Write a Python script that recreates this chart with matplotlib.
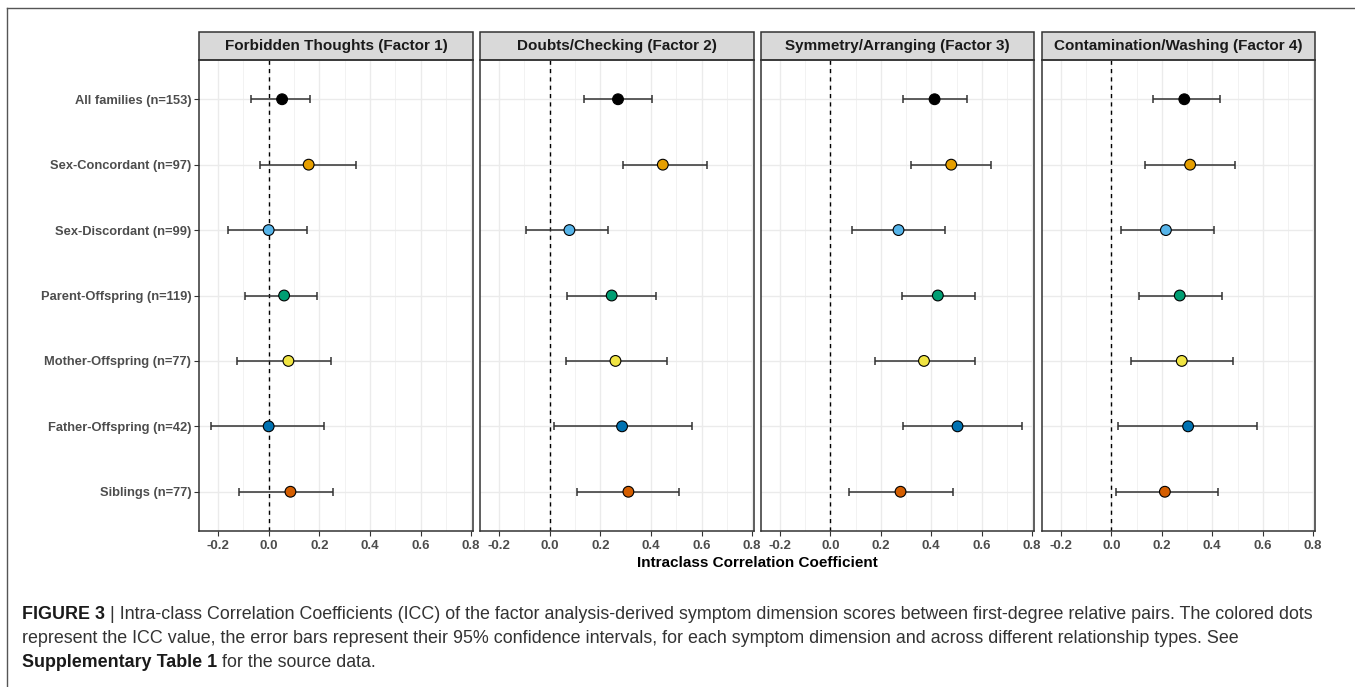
import numpy as np
import matplotlib
matplotlib.use('Agg')
import matplotlib.pyplot as plt
from matplotlib.patches import Rectangle
from matplotlib.lines import Line2D

plt.rcParams['font.family'] = ['Liberation Sans', 'DejaVu Sans']

# ── data ───────────────────────────────────────────────────────────
relationships = ["All families (n=153)", "Sex-Concordant (n=97)", "Sex-Discordant (n=99)",
                 "Parent-Offspring (n=119)", "Mother-Offspring (n=77)",
                 "Father-Offspring (n=42)", "Siblings (n=77)"]
point_colors = ["#000000", "#E69F00", "#56B4E9", "#009E73", "#F0E442", "#0072B2", "#D55E00"]

factors = ["Forbidden Thoughts (Factor 1)", "Doubts/Checking (Factor 2)",
           "Symmetry/Arranging (Factor 3)", "Contamination/Washing (Factor 4)"]

icc_f1 = [0.053, 0.158, 0.000, 0.061, 0.078, 0.000, 0.086]
lo_f1 = [-0.071, -0.035, -0.159, -0.095, -0.126, -0.226, -0.118]
hi_f1 = [0.163, 0.345, 0.152, 0.190, 0.245, 0.218, 0.255]

icc_f2 = [0.270, 0.447, 0.078, 0.245, 0.260, 0.286, 0.311]
lo_f2 = [0.134, 0.290, -0.095, 0.070, 0.063, 0.016, 0.108]
hi_f2 = [0.406, 0.621, 0.232, 0.419, 0.465, 0.564, 0.510]

icc_f3 = [0.413, 0.479, 0.270, 0.426, 0.371, 0.504, 0.278]
lo_f3 = [0.286, 0.320, 0.087, 0.283, 0.178, 0.286, 0.075]
hi_f3 = [0.542, 0.637, 0.455, 0.575, 0.575, 0.758, 0.488]

icc_f4 = [0.289, 0.312, 0.216, 0.271, 0.279, 0.304, 0.212]
lo_f4 = [0.163, 0.132, 0.038, 0.109, 0.076, 0.028, 0.020]
hi_f4 = [0.432, 0.489, 0.405, 0.439, 0.484, 0.576, 0.422]

x_ticks = [-0.2, 0.0, 0.2, 0.4, 0.6, 0.8]
x_minor = [-0.1, 0.1, 0.3, 0.5, 0.7]

panels = [(icc_f1, lo_f1, hi_f1), (icc_f2, lo_f2, hi_f2),
          (icc_f3, lo_f3, hi_f3), (icc_f4, lo_f4, hi_f4)]

# ── layout in pixels ───────────────────────────────────────────────
W, H = 1355, 687
panel_x = [(199, 473), (480, 754), (761, 1034), (1042, 1315)]
top, bottom = 60, 531
strip_h = 28

all_lo = np.concatenate([lo_f1, lo_f2, lo_f3, lo_f4])
all_hi = np.concatenate([hi_f1, hi_f2, hi_f3, hi_f4])
pad = 0.05 * (all_hi.max() - all_lo.min())
xlim = (all_lo.min() - pad, all_hi.max() + pad)

fig = plt.figure(figsize=(W / 100, H / 100), dpi=100)
fig.patch.set_facecolor('white')

# outer frame (only top and left visible in the crop)
fig.add_artist(Line2D([7 / W, 1], [1 - 8 / H, 1 - 8 / H], transform=fig.transFigure,
                      color='#555555', lw=1))
fig.add_artist(Line2D([7 / W, 7 / W], [0, 1 - 8 / H], transform=fig.transFigure,
                      color='#555555', lw=1))

y = np.arange(len(relationships))
for i, ((l, r), (icc, lo, hi)) in enumerate(zip(panel_x, panels)):
    ax = fig.add_axes([l / W, (H - bottom) / H, (r - l) / W, (bottom - top) / H])
    ax.set_xlim(xlim)
    ax.set_ylim(len(relationships) - 0.4, -0.6)

    for xv in x_minor:
        ax.axvline(xv, color='#F2F2F2', lw=0.7, zorder=0)
    for xv in x_ticks:
        ax.axvline(xv, color='#EBEBEB', lw=1.0, zorder=0)
    for yv in y:
        ax.axhline(yv, color='#EBEBEB', lw=1.0, zorder=0)

    ax.axvline(0, color='black', lw=1.0, dashes=(3, 3), zorder=1)

    icc = np.array(icc)
    err = [icc - np.array(lo), np.array(hi) - icc]
    ax.errorbar(icc, y, xerr=err, fmt='none', ecolor='#333333', elinewidth=1.1,
                capsize=2.6, capthick=1.1, zorder=2)
    ax.scatter(icc, y, s=60, c=point_colors, edgecolors='black', linewidths=0.8, zorder=3)

    ax.set_xticks(x_ticks)
    ax.set_xticklabels([f"{t:.1f}" for t in x_ticks])
    ax.tick_params(axis='x', length=3.5, width=0.8, color='#333333', pad=3,
                   labelsize=9.5, labelcolor='#4D4D4D')
    for lab in ax.get_xticklabels():
        lab.set_fontweight('bold')

    ax.set_yticks(y)
    if i == 0:
        ax.set_yticklabels(relationships)
        ax.tick_params(axis='y', length=3.5, width=0.8, color='#333333', pad=2,
                       labelsize=9.3, labelcolor='#4D4D4D')
        for lab in ax.get_yticklabels():
            lab.set_fontweight('bold')
    else:
        ax.set_yticklabels([])
        ax.tick_params(axis='y', length=0)

    for sp in ax.spines.values():
        sp.set_color('#333333')
        sp.set_linewidth(1.1)

    # facet strip
    sh = strip_h / (bottom - top)
    ax.add_patch(Rectangle((0, 1), 1, sh, transform=ax.transAxes, clip_on=False,
                           facecolor='#D9D9D9', edgecolor='#333333', lw=1.1))
    ax.text(0.5, 1 + sh / 2, factors[i], transform=ax.transAxes, ha='center', va='center',
            fontsize=11, fontweight='bold', color='#1A1A1A')

fig.text((panel_x[0][0] + panel_x[-1][1]) / 2 / W, 1 - 563 / H,
         "Intraclass Correlation Coefficient", ha='center', va='center',
         fontsize=11, fontweight='bold', color='black')

# ── caption with mixed weights ─────────────────────────────────────
renderer = fig.canvas.get_renderer()


def caption_line(x_px, y_px, pieces, size):
    x = x_px
    for txt, weight, color in pieces:
        t = fig.text(x / W, 1 - y_px / H, txt, fontsize=size, fontweight=weight,
                     color=color, ha='left', va='baseline')
        x += t.get_window_extent(renderer).width


cap_size = 12.9
cap_x = 22
caption_line(cap_x, 619, [("FIGURE 3", 'bold', '#1A1A1A'),
                          (" | Intra-class Correlation Coefficients (ICC) of the factor analysis-derived "
                           "symptom dimension scores between first-degree relative pairs. The colored dots",
                           'normal', '#333333')], cap_size)
caption_line(cap_x, 643, [("represent the ICC value, the error bars represent their 95% confidence intervals, "
                           "for each symptom dimension and across different relationship types. See",
                           'normal', '#333333')], cap_size)
caption_line(cap_x, 667, [("Supplementary Table 1", 'bold', '#1A1A1A'),
                          (" for the source data.", 'normal', '#333333')], cap_size)

fig.savefig("out.png", dpi=100, facecolor='white')
